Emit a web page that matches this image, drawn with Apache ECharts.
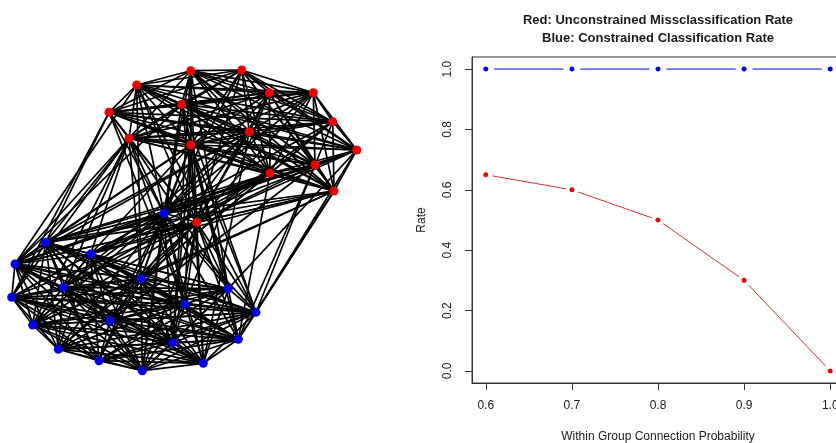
<!DOCTYPE html>
<html>
<head>
<meta charset="utf-8">
<script src="https://cdn.jsdelivr.net/npm/echarts@6/dist/echarts.min.js"></script>
<style>
  html, body { margin: 0; padding: 0; background: #fff; }
  #chart { width: 836px; height: 443px; }
</style>
</head>
<body>
<div id="chart"></div>
<script>
// right panel: classification rates
const probs = [0.6, 0.7, 0.8, 0.9, 1.0]
const unconstrained = [0.65, 0.60, 0.50, 0.30, 0.0]
const constrained = [1.0, 1.0, 1.0, 1.0, 1.0]
const xTicks = [0.6, 0.7, 0.8, 0.9, 1.0]
const yTicks = [0, 0.2, 0.4, 0.6, 0.8, 1.0]

// left panel: network layout (x, y)
const redNodes = [
  [190.7, 70.7], [241.7, 70], [136.7, 85], [269.3, 92.7], [313.3, 92.7],
  [181.7, 104.3], [109, 112.3], [332.7, 121.7], [249.3, 131.7], [129, 138.3],
  [190.7, 145], [356.7, 150], [315, 165], [270, 173.3], [334, 191], [196.7, 222.3]
]
const blueNodes = [
  [164, 213.3], [45.7, 242.3], [90.7, 254], [15, 264], [141, 278.7], [63.3, 287.3],
  [228.3, 288.7], [11.7, 297.3], [185, 304.3], [256, 312.3], [110, 320.7], [32.7, 325],
  [172.7, 342.7], [238.3, 339.3], [58.3, 349.3], [99, 360.7], [203.3, 363.3], [142.3, 370.7]
]
// between-group edges [red index, blue index]
const crossEdges = [
  [0, 0], [1, 0], [2, 0], [3, 0], [4, 0], [5, 0], [6, 0], [7, 0], [8, 0], [9, 0], [10, 0], [11, 0], [12, 0], [13, 0], [14, 0],
  [15, 0], [15, 1], [15, 2], [15, 3], [15, 4], [15, 5], [15, 6], [15, 7], [15, 8], [15, 9], [15, 10], [15, 11],
  [15, 12], [15, 13], [15, 14], [15, 16], [15, 17],
  [9, 3], [10, 3], [13, 3], [12, 3], [14, 3], [8, 3], [5, 3], [2, 3],
  [9, 1], [6, 1], [10, 1], [13, 1], [14, 1], [12, 1], [8, 1],
  [9, 2], [14, 2], [13, 2], [10, 2], [11, 2],
  [9, 4], [2, 4], [7, 4], [14, 4], [13, 4], [10, 4],
  [13, 5], [8, 5], [9, 5],
  [6, 7], [9, 7],
  [11, 6], [10, 6], [5, 6], [0, 6], [9, 6],
  [14, 9], [12, 9], [10, 9], [5, 9], [2, 9], [11, 9],
  [13, 13], [12, 13], [14, 13], [10, 13],
  [3, 8], [10, 8], [9, 8], [6, 8],
  [12, 10], [8, 10],
  [0, 12], [10, 12],
  [10, 16], [8, 16],
  [9, 11], [14, 11],
  [5, 17]
]

const chart = echarts.init(document.getElementById('chart'))

const nodes = []
redNodes.forEach(p => nodes.push({ value: p, itemStyle: { color: '#f00000' } }))
blueNodes.forEach(p => nodes.push({ value: p, itemStyle: { color: '#0000f0' } }))
const nRed = redNodes.length
const links = []
// groups drawn as fully connected within themselves
for (let i = 0; i < nRed; i++) for (let j = i + 1; j < nRed; j++) links.push({ source: i, target: j })
for (let i = 0; i < blueNodes.length; i++) for (let j = i + 1; j < blueNodes.length; j++) links.push({ source: nRed + i, target: nRed + j })
crossEdges.forEach(([r, b]) => links.push({ source: r, target: nRed + b }))

const font = 'Liberation Sans, Arial, sans-serif'
const txt = '#1a1a1a'

chart.setOption({
  animation: false,
  graphic: [{
    type: 'text',
    x: 658, y: 11,
    style: {
      text: 'Red: Unconstrained Missclassification Rate\nBlue: Constrained Classification Rate',
      textAlign: 'center',
      font: 'bold 13px ' + font,
      lineHeight: 18,
      fill: txt,
    },
  }],
  grid: [
    { left: 472, top: 57, width: 372, height: 326, outerBoundsMode: 'none', show: true, borderColor: '#333', borderWidth: 1 },
    { left: 0, top: 0, width: 380, height: 443, outerBoundsMode: 'none' },
  ],
  xAxis: [{
    gridIndex: 0,
    type: 'value',
    min: 0.584, max: 1.016,
    name: 'Within Group Connection Probability',
    nameLocation: 'middle',
    nameGap: 48,
    nameTextStyle: { fontFamily: font, fontSize: 12, color: txt },
    axisLine: { show: true, onZero: false, lineStyle: { color: '#333' } },
    axisTick: { show: true, length: 7, customValues: xTicks, lineStyle: { color: '#333' } },
    axisLabel: { customValues: xTicks, margin: 17, fontFamily: font, fontSize: 12, color: txt, formatter: v => v.toFixed(1) },
    splitLine: { show: false },
  }, {
    gridIndex: 1, type: 'value', min: 0, max: 380, show: false,
  }],
  yAxis: [{
    gridIndex: 0,
    type: 'value',
    min: -0.04, max: 1.04,
    name: 'Rate',
    nameLocation: 'middle',
    nameGap: 44,
    nameRotate: 90,
    nameTextStyle: { fontFamily: font, fontSize: 12, color: txt },
    axisLine: { show: true, onZero: false, lineStyle: { color: '#333' } },
    axisTick: { show: true, length: 7, customValues: yTicks, lineStyle: { color: '#333' } },
    axisLabel: { customValues: yTicks, margin: 18, rotate: 90, fontFamily: font, fontSize: 12, color: txt, formatter: v => v.toFixed(1) },
    splitLine: { show: false },
  }, {
    gridIndex: 1, type: 'value', min: 0, max: 443, inverse: true, show: false,
  }],
  series: [{
    type: 'graph',
    coordinateSystem: 'cartesian2d',
    xAxisIndex: 1,
    yAxisIndex: 1,
    data: nodes,
    links,
    symbolSize: 9,
    lineStyle: { color: '#000', width: 1.7, opacity: 1 },
    label: { show: false },
    emphasis: { disabled: true },
    silent: true,
  }, {
    type: 'line',
    xAxisIndex: 0, yAxisIndex: 0,
    data: probs.map((p, i) => [p, constrained[i]]),
    symbol: 'circle',
    symbolSize: 11,
    itemStyle: { color: '#0000ee', borderColor: '#fff', borderWidth: 6 },
    lineStyle: { color: '#0000ee', width: 1 },
    emphasis: { disabled: true },
  }, {
    type: 'line',
    xAxisIndex: 0, yAxisIndex: 0,
    data: probs.map((p, i) => [p, unconstrained[i]]),
    symbol: 'circle',
    symbolSize: 9,
    itemStyle: { color: '#ee0000', borderColor: '#fff', borderWidth: 4 },
    lineStyle: { color: '#cc3333', width: 1 },
    emphasis: { disabled: true },
  }],
})
</script>
</body>
</html>
